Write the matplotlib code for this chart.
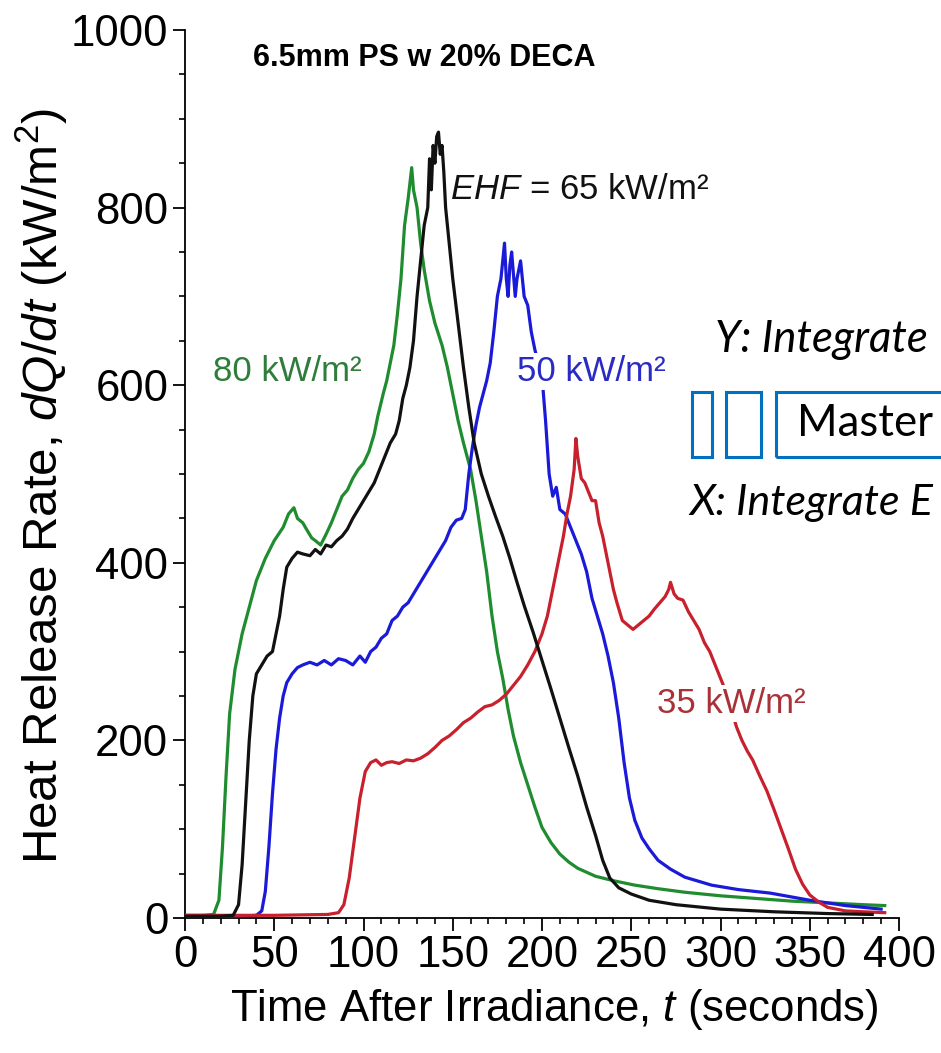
import matplotlib
matplotlib.use("Agg")
import matplotlib.pyplot as plt
from matplotlib.patches import Rectangle
from matplotlib.ticker import MultipleLocator

plt.rcParams['font.family'] = ['Liberation Sans', 'DejaVu Sans']
plt.rcParams['mathtext.fontset'] = 'custom'
plt.rcParams['mathtext.rm'] = 'Liberation Sans'
plt.rcParams['mathtext.it'] = 'Liberation Sans:italic'

# ---------------- data ----------------
t80 = [0, 10, 16, 19, 21, 23, 25, 28, 32, 36, 40, 45, 50, 55, 58, 61, 63, 66, 68, 71, 73, 76, 79,
       82, 85, 88, 91, 94, 97, 100, 103, 106, 108, 111, 113, 115, 117, 119, 121, 123, 125, 127,
       128, 130, 132, 134, 137, 140, 144, 147, 150, 153, 156, 160, 163, 166, 169, 172, 175, 178,
       181, 184, 188, 192, 196, 200, 205, 210, 215, 220, 230, 240, 252, 265, 280, 300, 320, 340,
       360, 380, 392]
q80 = [3, 3, 4, 20, 80, 160, 230, 280, 320, 350, 380, 405, 425, 440, 455, 462, 450, 445, 438, 428,
       425, 420, 432, 445, 460, 475, 482, 495, 505, 512, 525, 545, 565, 590, 605, 625, 645, 680, 720,
       780, 810, 845, 820, 800, 760, 730, 695, 670, 645, 620, 590, 560, 535, 505, 470, 430, 390, 340,
       300, 270, 235, 205, 175, 150, 125, 102, 85, 72, 63, 56, 47, 42, 37, 33, 29, 25, 22, 19, 17,
       15, 14]

t65 = [0, 20, 27, 30, 32, 34, 36, 38, 40, 43, 46, 49, 51, 53, 55, 57, 60, 63, 66, 70, 73, 76, 79,
       82, 85, 88, 91, 94, 97, 100, 103, 106, 109, 112, 115, 118, 120, 122, 124, 126, 128, 130,
       132, 134, 136, 137, 138, 139, 140, 141, 142, 143, 144, 145, 146, 148, 150, 153, 156, 159,
       162, 166, 170, 174, 178, 182, 186, 190, 195, 200, 205, 210, 215, 220, 225, 230, 234, 238,
       243, 250, 260, 275, 300, 330, 360, 385]
q65 = [2, 2, 3, 15, 60, 130, 200, 250, 275, 285, 295, 300, 320, 340, 370, 395, 405, 412, 410, 408,
       415, 410, 420, 418, 425, 430, 438, 450, 460, 470, 480, 490, 505, 520, 535, 545, 560, 585, 600,
       620, 650, 700, 740, 780, 800, 855, 820, 870, 850, 880, 885, 860, 870, 840, 800, 760, 720, 670,
       620, 575, 535, 500, 475, 452, 430, 405, 378, 352, 322, 290, 258, 225, 192, 160, 125, 93, 65,
       45, 34, 27, 20, 15, 10, 7, 5, 4]

t50 = [0, 30, 40, 43, 45, 47, 49, 51, 53, 55, 57, 60, 63, 66, 70, 74, 78, 82, 86, 90, 94, 98, 101,
       104, 107, 110, 113, 116, 119, 122, 125, 128, 131, 134, 137, 140, 143, 146, 149, 152, 155,
       157, 159, 161, 163, 165, 167, 169, 171, 173, 175, 177, 178, 179, 180, 181, 182, 183, 184,
       185, 186, 188, 190, 192, 194, 196, 198, 200, 202, 204, 206, 208, 210, 213, 216, 219, 222,
       225, 228, 231, 234, 237, 240, 243, 246, 249, 252, 256, 260, 265, 272, 280, 295, 310, 328,
       350, 370, 390]
q50 = [2, 2, 3, 8, 30, 80, 140, 190, 225, 250, 265, 275, 282, 285, 288, 285, 290, 285, 292, 290,
       285, 295, 288, 300, 305, 315, 320, 335, 340, 350, 355, 365, 375, 385, 395, 405, 415, 425, 440,
       448, 450, 460, 500, 530, 555, 575, 590, 605, 625, 660, 700, 720, 740, 760, 720, 700, 735, 750,
       725, 700, 720, 740, 700, 690, 660, 640, 625, 610, 560, 500, 475, 485, 460, 455, 440, 425, 410,
       390, 360, 340, 320, 295, 265, 225, 175, 135, 110, 90, 78, 65, 55, 46, 37, 32, 28, 20, 14, 10]

t35 = [0, 50, 80, 86, 89, 92, 95, 98, 101, 104, 107, 110, 113, 116, 120, 124, 128, 132, 136, 140,
       144, 148, 152, 156, 160, 164, 168, 172, 176, 180, 184, 188, 192, 196, 200, 203, 206, 208,
       210, 212, 214, 216, 218, 219, 220, 222, 224, 226, 228, 230, 232, 234, 236, 238, 240, 242,
       245, 248, 251, 254, 257, 260, 263, 266, 269, 271, 272, 274, 276, 279, 282, 285, 288, 291,
       294, 297, 300, 303, 306, 309, 312, 315, 318, 322, 326, 330, 334, 338, 342, 346, 350, 355,
       360, 370, 380, 392]
q35 = [3, 3, 4, 6, 15, 45, 90, 135, 165, 175, 178, 172, 175, 176, 174, 178, 177, 180, 185, 192,
       200, 205, 212, 220, 225, 232, 238, 240, 245, 252, 262, 272, 285, 300, 320, 340, 370, 390, 410,
       430, 455, 475, 505, 540, 520, 495, 490, 480, 470, 470, 445, 430, 410, 390, 370, 355, 335, 330,
       325, 330, 335, 340, 348, 355, 362, 370, 378, 365, 360, 358, 345, 335, 325, 310, 300, 285, 270,
       255, 235, 215, 200, 188, 178, 160, 143, 122, 100, 78, 55, 38, 26, 18, 12, 8, 7, 6]

x_ticks = [0, 50, 100, 150, 200, 250, 300, 350, 400]
y_ticks = [0, 200, 400, 600, 800, 1000]
title = "6.5mm PS w 20% DECA"

# ---------------- figure ----------------
W, H = 941, 1053
fig = plt.figure(figsize=(W / 100, H / 100), dpi=100)
ax = fig.add_axes([185 / W, 1 - 918 / H, (899 - 185) / W, (918 - 30) / H])

lw = 2.3
ax.plot(t80, q80, color='#1f8c2f', lw=lw, zorder=3)
ax.plot(t65, q65, color='#111111', lw=lw, zorder=4)
ax.plot(t50, q50, color='#1a1ad8', lw=lw, zorder=3)
ax.plot(t35, q35, color='#c8202c', lw=lw, zorder=3)

ax.set_xlim(0, 400)
ax.set_ylim(0, 1000)
ax.set_xticks(x_ticks)
ax.set_yticks(y_ticks)
ax.xaxis.set_minor_locator(MultipleLocator(10))
ax.yaxis.set_minor_locator(MultipleLocator(50))
ax.spines['top'].set_visible(False)
ax.spines['right'].set_visible(False)
for s in ('left', 'bottom'):
    ax.spines[s].set_linewidth(1.3)
ax.tick_params(which='major', direction='out', length=9, width=1.3, labelsize=31.5, pad=3)
ax.tick_params(which='minor', direction='out', length=4.5, width=1.2)

ax.set_xlabel("Time After Irradiance, $\\mathit{t}$ (seconds)", fontsize=31.5)
ax.set_ylabel("Heat Release Rate, $\\mathit{dQ/dt}$ (kW/m$^2$)", fontsize=35.5)
ax.xaxis.set_label_coords((554 - 185) / 714, -(1010 - 918) / 888)
ax.yaxis.set_label_coords(-(185 - 42) / 714, (918 - 486) / 888)
ax.xaxis.label.set_va('center')
ax.yaxis.label.set_va('center')

ax.text(134, 968, title, fontsize=22, fontweight='bold', ha='center', va='center')

bb = dict(facecolor='white', edgecolor='none', pad=1.5)
ax.text(15.7, 615, "80 kW/m²", fontsize=25, color='#2e7d3a', ha='left', va='center', zorder=6, bbox=bb)
ax.text(186, 615, "50 kW/m²", fontsize=25, color='#2a2ac4', ha='left', va='center', zorder=6, bbox=bb)
ax.text(264.4, 242, "35 kW/m²", fontsize=25, color='#a83238', ha='left', va='center', zorder=6, bbox=bb)
ax.text(148.5, 820, "$\\mathit{EHF}$ = 65 kW/m²", fontsize=25, color='#111111', ha='left', va='center',
        zorder=6, bbox=bb)

# ---------------- overlay (slide annotation) ----------------
def fx(px):
    return px / W

def fy(py):
    return 1 - py / H

ofont = ['Lato', 'DejaVu Sans']
fig.text(fx(715), fy(340), "Y: Integrate", fontsize=31.5, style='italic', family=ofont, ha='left', va='center')
fig.text(fx(689), fy(503), "X: Integrate E", fontsize=31, style='italic', family=ofont, ha='left', va='center')
fig.text(fx(797), fy(424), "Master", fontsize=31.5, family=ofont, ha='left', va='center')
for x0, x1 in [(692, 712), (726, 761), (776, 990)]:
    fig.patches.append(Rectangle((fx(x0), fy(457)), fx(x1) - fx(x0), fy(392) - fy(457),
                                 transform=fig.transFigure, fill=False, edgecolor='#0070c0',
                                 linewidth=2.2, figure=fig))

fig.savefig("out.png", dpi=100, facecolor='white')
